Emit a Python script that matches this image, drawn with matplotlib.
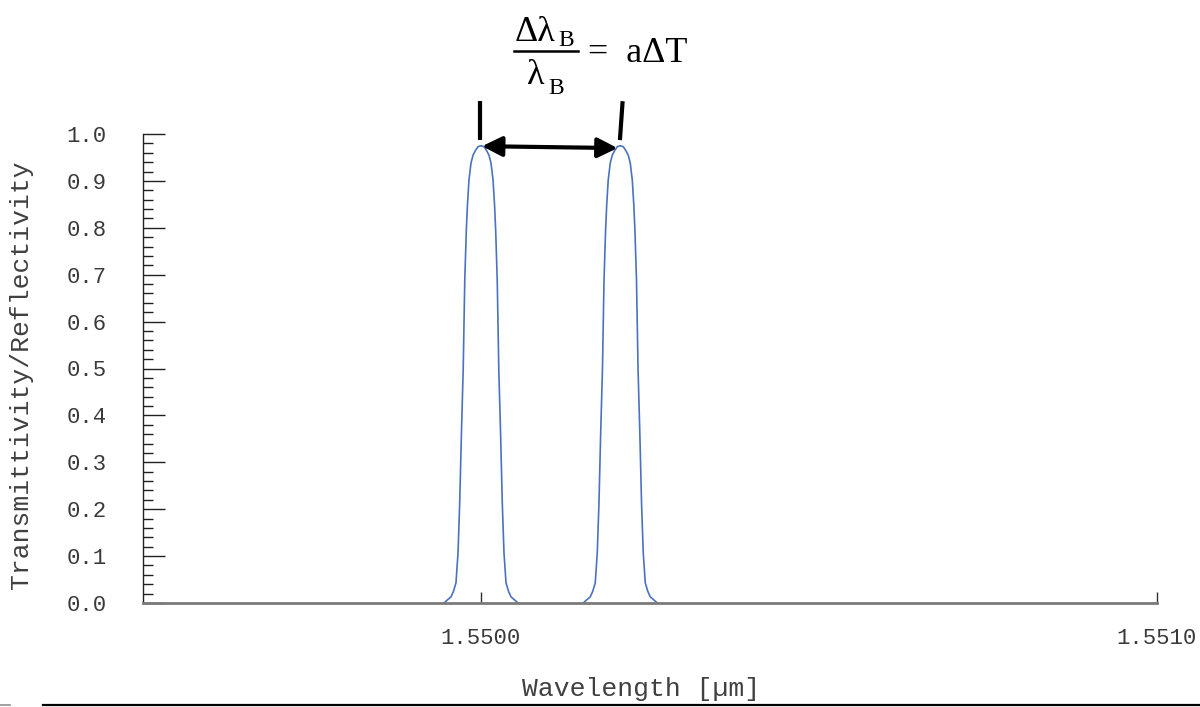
import matplotlib
matplotlib.use("Agg")
import matplotlib.pyplot as plt
from matplotlib.lines import Line2D

# ---- data ----
peak1_wl = [1.5499453, 1.5499482, 1.5499556, 1.5499593, 1.5499630, 1.5499660, 1.5499685,
            1.5499709, 1.5499737, 1.5499749, 1.5499760, 1.5499783, 1.5499800, 1.5499822,
            1.5499852, 1.5499882, 1.5499919, 1.5499956, 1.5500000,
            1.5500044, 1.5500081, 1.5500118, 1.5500148, 1.5500178, 1.5500200, 1.5500217,
            1.5500240, 1.5500251, 1.5500263, 1.5500291, 1.5500315, 1.5500340, 1.5500370,
            1.5500407, 1.5500444, 1.5500518, 1.5500547]
peak1_val = [0.000, 0.004, 0.013, 0.025, 0.043, 0.107, 0.213, 0.354, 0.500, 0.600, 0.689,
             0.795, 0.850, 0.902, 0.938, 0.955, 0.965, 0.973, 0.975,
             0.973, 0.965, 0.955, 0.938, 0.902, 0.850, 0.795, 0.689, 0.600, 0.500, 0.354,
             0.213, 0.107, 0.043, 0.025, 0.013, 0.004, 0.000]

peak2_wl = [1.5501513, 1.5501542, 1.5501616, 1.5501653, 1.5501690, 1.5501720, 1.5501745,
            1.5501769, 1.5501797, 1.5501809, 1.5501820, 1.5501843, 1.5501860, 1.5501882,
            1.5501912, 1.5501942, 1.5501979, 1.5502016, 1.5502060,
            1.5502104, 1.5502141, 1.5502178, 1.5502208, 1.5502238, 1.5502260, 1.5502277,
            1.5502300, 1.5502311, 1.5502323, 1.5502351, 1.5502375, 1.5502400, 1.5502430,
            1.5502467, 1.5502504, 1.5502578, 1.5502607]
peak2_val = [0.000, 0.004, 0.013, 0.025, 0.043, 0.107, 0.213, 0.354, 0.500, 0.600, 0.689,
             0.795, 0.850, 0.902, 0.938, 0.955, 0.965, 0.973, 0.975,
             0.973, 0.965, 0.955, 0.938, 0.902, 0.850, 0.795, 0.689, 0.600, 0.500, 0.354,
             0.213, 0.107, 0.043, 0.025, 0.013, 0.004, 0.000]

x_ticks = [1.5500, 1.5510]
x_tick_labels = ["1.5500", "1.5510"]
y_ticks = [0.0, 0.1, 0.2, 0.3, 0.4, 0.5, 0.6, 0.7, 0.8, 0.9, 1.0]
y_tick_labels = ["0.0", "0.1", "0.2", "0.3", "0.4", "0.5", "0.6", "0.7", "0.8", "0.9", "1.0"]
y_minor = [0.02, 0.04, 0.06, 0.08, 0.12, 0.14, 0.16, 0.18, 0.22, 0.24, 0.26, 0.28,
           0.32, 0.34, 0.36, 0.38, 0.42, 0.44, 0.46, 0.48, 0.52, 0.54, 0.56, 0.58,
           0.62, 0.64, 0.66, 0.68, 0.72, 0.74, 0.76, 0.78, 0.82, 0.84, 0.86, 0.88,
           0.92, 0.94, 0.96, 0.98]
x_label = "Wavelength [µm]"
y_label = "Transmittivity/Reflectivity"

MONO = "Liberation Mono"
SERIF = "Liberation Serif"

W, H = 1200, 707
fig = plt.figure(figsize=(W / 100, H / 100), dpi=100)
ax = fig.add_axes([143 / W, 1 - 603 / H, (1157 - 143) / W, (603 - 134) / H])

line_color = "#4a72c0"
for wl, val in [(peak1_wl, peak1_val), (peak2_wl, peak2_val)]:
    ax.plot(wl, val, color=line_color, lw=1.2, zorder=2,
            solid_joinstyle="round", solid_capstyle="round")

ax.set_xlim(1.5495, 1.5510)
ax.set_ylim(0.0, 1.0)

for s in ["top", "right"]:
    ax.spines[s].set_visible(False)
ax.spines["left"].set_color("#202020")
ax.spines["left"].set_linewidth(1.0)
ax.spines["bottom"].set_color("#7a7a7a")
ax.spines["bottom"].set_linewidth(2.0)
ax.spines["bottom"].set_zorder(3)

ax.set_xticks(x_ticks)
ax.set_xticklabels(x_tick_labels)
ax.set_yticks(y_ticks)
ax.set_yticklabels(y_tick_labels)
ax.set_yticks(y_minor, minor=True)

ax.tick_params(axis="y", which="major", direction="in", length=16, width=1.0,
               color="#202020", pad=26, labelsize=16, labelcolor="#3a3a3a")
ax.tick_params(axis="y", which="minor", direction="in", length=7.2, width=1.0,
               color="#202020")
ax.tick_params(axis="x", which="major", direction="in", length=8, width=1.0,
               color="#303030", pad=18, labelsize=16, labelcolor="#3a3a3a")
for lab in ax.get_xticklabels() + ax.get_yticklabels():
    lab.set_fontfamily(MONO)

ax.set_xlabel(x_label, fontfamily=MONO, fontsize=19, color="#404040")
ax.set_ylabel(y_label, fontfamily=MONO, fontsize=19, color="#404040")
ax.xaxis.set_label_coords(0.491, -0.158)
ax.yaxis.set_label_coords(-0.108, 0.486)

# annotation marks above the peaks
ax.plot([1.549998, 1.549998], [0.987, 1.070], color="black", lw=3.0,
        clip_on=False, solid_capstyle="butt", zorder=4)
ax.plot([1.5502055, 1.5502095], [0.987, 1.070], color="black", lw=3.0,
        clip_on=False, solid_capstyle="butt", zorder=4)
ax.annotate("", xy=(1.550202, 0.970), xytext=(1.5500015, 0.974),
            arrowprops=dict(arrowstyle="<|-|>", color="black", lw=3.0,
                            mutation_scale=30, shrinkA=0, shrinkB=0),
            annotation_clip=False, zorder=4)

# equation  (Δλ_B / λ_B = aΔT)
def fy(py):
    return 1 - py / H

fig.text(515 / W, fy(41), "Δλ", fontfamily=SERIF, fontsize=26,
         ha="left", va="baseline", color="black")
fig.text(558 / W, fy(46), "B", fontfamily=SERIF, fontsize=17,
         ha="left", va="baseline", color="black")
fig.add_artist(Line2D([514 / W, 578 / W], [fy(51), fy(51)], color="black",
                      lw=1.8, transform=fig.transFigure))
fig.text(527 / W, fy(84), "λ", fontfamily=SERIF, fontsize=26,
         ha="left", va="baseline", color="black")
fig.text(548 / W, fy(94), "B", fontfamily=SERIF, fontsize=17,
         ha="left", va="baseline", color="black")
fig.text(588 / W, fy(62), "=  aΔT", fontfamily=SERIF, fontsize=26,
         ha="left", va="baseline", color="black")

# bottom border line of the original image
fig.add_artist(Line2D([43 / W, 1.0], [fy(705), fy(705)],
                      color="black", lw=1.6, transform=fig.transFigure))
fig.add_artist(Line2D([0.0, 10 / W], [fy(705), fy(705)],
                      color="#909090", lw=1.2, transform=fig.transFigure))

fig.savefig("out.png", dpi=100)
